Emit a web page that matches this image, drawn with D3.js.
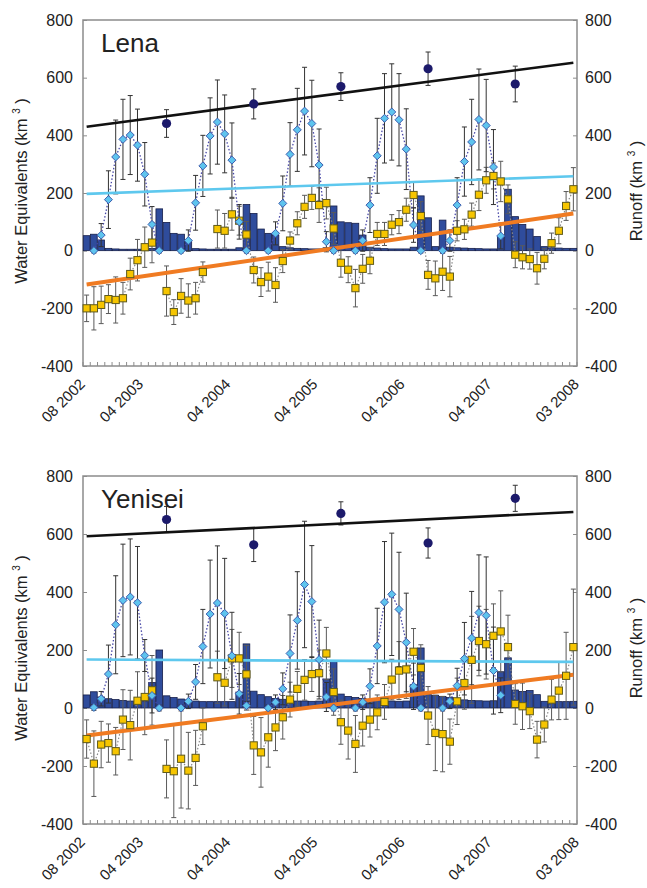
<!DOCTYPE html>
<html>
<head>
<meta charset="utf-8">
<script src="https://cdn.jsdelivr.net/npm/d3@7"></script>
<style>
  body { margin: 0; background: #fff; }
  svg { display: block; }
</style>
</head>
<body>
<svg id="chart" width="647" height="888"></svg>
<script>
const FONT = '"Liberation Sans", Arial, Helvetica, sans-serif';

// monthly categories, Aug 2002 .. Mar 2008
const months = d3.timeMonth.range(new Date(2002, 7, 1), new Date(2008, 3, 1));
const monthKeys = months.map(d3.timeFormat("%Y-%m"));
const yTicks = [-400, -200, 0, 200, 400, 600, 800];
const xTickLabels = ["08 2002", "04 2003", "04 2004", "04 2005", "04 2006", "04 2007", "03 2008"];
const xTickEdges = [0, 8, 20, 32, 44, 56, 68];
const annualMonths = ["2003-07", "2004-07", "2005-07", "2006-07", "2007-07"];

// ---- Lena ----
const lenaRunoff = [52, 57, 37, 8, 6, 5, 5, 5, 5, 8,
  145, 98, 60, 57, 36, 7, 6, 5, 5, 5,
  5, 10, 160, 129, 75, 60, 54, 14, 10, 8,
  7, 6, 6, 10, 155, 100, 97, 95, 54, 12,
  9, 7, 6, 6, 6, 12, 190, 114, 14, 106,
  12, 10, 9, 8, 7, 6, 6, 48, 213, 118,
  91, 75, 49, 14, 10, 9, 8, 8];
const lenaSwe = [null, 0, 54, 177, 325, 386, 401, 366, 265, 91,
  0, null, null, 0, 35, 166, 294, 398, 446, 405,
  314, 100, 0, null, null, 0, 60, 164, 334, 419,
  484, 441, 297, 31, 0, null, null, 0, 35, 158,
  329, 459, 481, 454, 352, 89, 0, null, null, 0,
  35, 158, 309, 377, 455, 434, 290, 51, null, null,
  null, null, null, null, null, null, null, null];
const lenaSweErr = [null, 8, 40, 100, 128, 139, 137, 125, 110, 62,
  8, null, null, 8, 37, 95, 106, 132, 146, 135,
  129, 60, 8, null, null, 8, 40, 95, 110, 144,
  152, 150, 125, 35, 8, null, null, 8, 37, 95,
  130, 155, 167, 160, 140, 60, 8, null, null, 8,
  37, 95, 120, 148, 175, 160, 130, 45, null, null,
  null, null, null, null, null, null, null, null];
const lenaTws = [-200, -200, -188, -168, -171, -165, -81, -33, 12, 28,
  null, -140, -213, -157, -173, -165, -74, null, 75, 69,
  126, 104, 56, -67, -109, -90, -119, -36, 35, 95,
  152, 183, 158, 165, 77, -42, -66, -130, -63, -35,
  58, 58, 90, 99, 142, 193, 120, -84, -96, -73,
  -90, 69, 74, 125, 194, 244, 259, 240, 178, -14,
  -23, -29, -61, -28, 26, 69, 155, 213];
const lenaTwsErr = [46, 75, 65, 50, 80, 55, 55, 72, 70, 70,
  null, 87, 43, 60, 58, 55, 35, null, 66, 60,
  55, 50, 45, 45, 50, 50, 60, 40, 30, 40,
  40, 40, 60, 55, 55, 50, 45, 65, 50, 45,
  40, 40, 35, 40, 40, 45, 50, 50, 60, 65,
  70, 35, 35, 40, 55, 45, 45, 70, 50, 45,
  40, 35, 55, 35, 35, 45, 50, 75];
const lenaAnnual = [441, 509, 569, 631, 578];
const lenaAnnualErr = [48, 52, 48, 58, 62];
const lenaTrendRunoff = [430, 652];
const lenaTrendSwe = [197, 258];
const lenaTrendTws = [-117, 129];

// ---- Yenisei ----
const yeniseiRunoff = [45, 56, 38, 32, 29, 26, 24, 22, 22, 88,
  200, 42, 36, 31, 28, 24, 22, 22, 22, 22,
  22, 55, 221, 58, 46, 39, 33, 30, 26, 24,
  24, 23, 24, 100, 162, 48, 40, 36, 33, 30,
  26, 24, 24, 23, 24, 80, 207, 46, 44, 40,
  36, 32, 28, 26, 25, 24, 25, 125, 173, 62,
  57, 60, 46, 23, 22, 22, 22, 23];
const yeniseiSwe = [null, 2, 32, 117, 287, 371, 383, 363, 181, 43,
  0, null, null, 0, 23, 90, 212, 324, 362, 326,
  180, 49, 8, null, null, 0, 20, 66, 188, 302,
  426, 367, 167, 38, 0, null, null, 0, 20, 75,
  214, 365, 392, 340, 226, 75, 0, null, null, 0,
  23, 77, 170, 241, 329, 319, 129, 44, null, null,
  null, null, null, null, null, null, null, null];
const yeniseiSweErr = [null, 10, 25, 100, 169, 194, 200, 194, 55, 60,
  10, null, null, 10, 25, 60, 128, 186, 197, 190,
  150, 70, 15, null, null, 10, 25, 55, 133, 168,
  218, 193, 136, 50, 10, null, null, 10, 25, 60,
  130, 209, 211, 197, 170, 80, 10, null, null, 10,
  25, 60, 125, 161, 199, 202, 150, 60, null, null,
  null, null, null, null, null, null, null, null];
const yeniseiTws = [-107, -192, -126, -121, -149, -40, -59, 25, 38, 61,
  null, -210, -218, -175, -216, -172, -63, null, 106, 87,
  171, 171, 116, -129, -153, -101, -67, -32, 29, 66,
  97, 117, 120, 188, 55, -49, -78, -124, -61, -40,
  -15, 21, 98, 129, 133, 194, 138, -26, -86, -90,
  -116, 23, 86, 166, 231, 220, 249, 264, 210, 14,
  6, -11, -109, -57, 29, 60, 111, 210];
const yeniseiTwsErr = [66, 113, 80, 66, 82, 103, 120, 100, 130, 120,
  null, 100, 160, 170, 132, 95, 63, null, 90, 80,
  100, 90, 100, 100, 120, 103, 80, 75, 60, 60,
  70, 60, 80, 90, 80, 76, 98, 98, 70, 60,
  60, 60, 70, 100, 100, 80, 80, 100, 130, 130,
  78, 80, 90, 150, 120, 120, 110, 140, 110, 70,
  80, 60, 63, 60, 70, 100, 150, 200];
const yeniseiAnnual = [650, 563, 671, 569, 723];
const yeniseiAnnualErr = [45, 58, 40, 52, 45];
const yeniseiTrendRunoff = [592, 676];
const yeniseiTrendSwe = [167, 159];
const yeniseiTrendTws = [-95, 115];

const panels = [
  { name: "Lena", top: 20, bottom: 366, runoff: lenaRunoff, swe: lenaSwe, sweErr: lenaSweErr,
    tws: lenaTws, twsErr: lenaTwsErr, annual: lenaAnnual, annualErr: lenaAnnualErr,
    trendRunoff: lenaTrendRunoff, trendSwe: lenaTrendSwe, trendTws: lenaTrendTws },
  { name: "Yenisei", top: 476, bottom: 824, runoff: yeniseiRunoff, swe: yeniseiSwe, sweErr: yeniseiSweErr,
    tws: yeniseiTws, twsErr: yeniseiTwsErr, annual: yeniseiAnnual, annualErr: yeniseiAnnualErr,
    trendRunoff: yeniseiTrendRunoff, trendSwe: yeniseiTrendSwe, trendTws: yeniseiTrendTws },
];

const svg = d3.select("#chart").attr("font-family", FONT);
const X0 = 83, X1 = 577;
const x = d3.scaleBand(monthKeys, [X0, X1]).padding(0);
const xEdge = d3.scaleLinear([0, monthKeys.length], [X0, X1]);
const cx = (key) => x(key) + x.bandwidth() / 2;

function errorBars(g, cls, pts, y, color) {
  const eb = g.selectAll(`g.${cls}`).data(pts).join("g").attr("class", cls)
    .attr("stroke", color).attr("stroke-width", 1);
  eb.append("line").attr("x1", (d) => cx(d.key)).attr("x2", (d) => cx(d.key))
    .attr("y1", (d) => y(d.v + d.e)).attr("y2", (d) => y(d.v - d.e));
  [1, -1].forEach((s) =>
    eb.append("line").attr("x1", (d) => cx(d.key) - 2.5).attr("x2", (d) => cx(d.key) + 2.5)
      .attr("y1", (d) => y(d.v + s * d.e)).attr("y2", (d) => y(d.v + s * d.e)));
}

function axisTitle(g, tx, ty, label) {
  const t = g.append("text").attr("transform", `translate(${tx},${ty}) rotate(-90)`)
    .attr("text-anchor", "middle").attr("font-size", 16.5).attr("fill", "#222");
  t.append("tspan").text(label + " (km ");
  t.append("tspan").attr("dy", -7).attr("font-size", 10).text("3");
  t.append("tspan").attr("dy", 7).text(" )");
}

function drawPanel(p) {
  const g = svg.append("g").attr("class", "panel");
  const y = d3.scaleLinear([-400, 800], [p.bottom, p.top]);
  const series = (vals, errs) => vals.map((v, i) => ({ key: monthKeys[i], v, e: errs ? errs[i] : 0 }));

  g.append("rect").attr("x", X0).attr("y", p.top).attr("width", X1 - X0).attr("height", p.bottom - p.top)
    .attr("fill", "none").attr("stroke", "#8c8c8c").attr("stroke-width", 1.5);

  const fmt = (d) => String(d);
  const left = g.append("g").attr("transform", `translate(${X0},0)`)
    .call(d3.axisLeft(y).tickValues(yTicks).tickFormat(fmt).tickSizeInner(-4).tickSizeOuter(0).tickPadding(10));
  const right = g.append("g").attr("transform", `translate(${X1},0)`)
    .call(d3.axisRight(y).tickValues(yTicks).tickFormat(fmt).tickSizeInner(-4).tickSizeOuter(0).tickPadding(8));
  [left, right].forEach((a) => {
    a.attr("font-size", 16).attr("font-family", FONT);
    a.select(".domain").remove();
    a.selectAll(".tick line").attr("stroke", "#8c8c8c");
    a.selectAll(".tick text").attr("fill", "#222");
  });

  // month tick marks along the bottom
  g.selectAll("line.mtick").data(d3.range(monthKeys.length + 1)).join("line").attr("class", "mtick")
    .attr("x1", (k) => xEdge(k)).attr("x2", (k) => xEdge(k))
    .attr("y1", p.bottom).attr("y2", p.bottom - 4).attr("stroke", "#8c8c8c");

  g.selectAll("text.xlab").data(xTickLabels).join("text").attr("class", "xlab")
    .attr("transform", (d, i) => `translate(${xEdge(xTickEdges[i]) + 3},${p.bottom + 19}) rotate(-45)`)
    .attr("text-anchor", "end").attr("font-size", 15).attr("fill", "#222").text((d) => d);

  // monthly runoff bars
  g.selectAll("rect.bar").data(series(p.runoff)).join("rect").attr("class", "bar")
    .attr("x", (d) => x(d.key) + 0.3).attr("width", x.bandwidth() - 0.6)
    .attr("y", (d) => y(d.v)).attr("height", (d) => y(0) - y(d.v))
    .attr("fill", "#2f4c9c").attr("stroke", "#161f4a").attr("stroke-width", 0.8);

  const tws = series(p.tws, p.twsErr);
  const swe = series(p.swe, p.sweErr);
  const annual = annualMonths.map((m, i) => ({ key: m, v: p.annual[i], e: p.annualErr[i] }));

  errorBars(g, "eb-tws", tws.filter((d) => d.v != null), y, "#5a5a5a");
  errorBars(g, "eb-swe", swe.filter((d) => d.v != null), y, "#333");
  errorBars(g, "eb-ann", annual, y, "#333");

  const line = d3.line().defined((d) => d.v != null).x((d) => cx(d.key)).y((d) => y(d.v));
  g.append("path").attr("d", line(tws)).attr("fill", "none").attr("stroke", "#8a8a8a")
    .attr("stroke-width", 1.2).attr("stroke-dasharray", "1.5,2");
  g.append("path").attr("d", line(swe)).attr("fill", "none").attr("stroke", "#4848a8")
    .attr("stroke-width", 1.3).attr("stroke-dasharray", "1.5,2");

  const ends = (vals) => [{ key: monthKeys[0], v: vals[0] }, { key: monthKeys[monthKeys.length - 1], v: vals[1] }];
  g.append("path").attr("d", line(ends(p.trendRunoff))).attr("stroke", "#111").attr("stroke-width", 2.6).attr("fill", "none");
  g.append("path").attr("d", line(ends(p.trendSwe))).attr("stroke", "#5ec8ee").attr("stroke-width", 2.6).attr("fill", "none");
  g.append("path").attr("d", line(ends(p.trendTws))).attr("stroke", "#f07b22").attr("stroke-width", 4).attr("fill", "none");

  g.selectAll("rect.tws").data(tws.filter((d) => d.v != null)).join("rect").attr("class", "tws")
    .attr("x", (d) => cx(d.key) - 3.6).attr("y", (d) => y(d.v) - 3.6).attr("width", 7.2).attr("height", 7.2)
    .attr("fill", "#f6c500").attr("stroke", "#5f5a1c").attr("stroke-width", 1);
  g.selectAll("path.swe").data(swe.filter((d) => d.v != null)).join("path").attr("class", "swe")
    .attr("d", "M0,-4L4,0L0,4L-4,0Z").attr("transform", (d) => `translate(${cx(d.key)},${y(d.v)})`)
    .attr("fill", "#5ec4ee").attr("stroke", "#3d5fb0").attr("stroke-width", 1);
  g.selectAll("circle.ann").data(annual).join("circle").attr("class", "ann")
    .attr("cx", (d) => cx(d.key)).attr("cy", (d) => y(d.v)).attr("r", 4.6).attr("fill", "#1c1a6b");

  g.append("text").attr("x", 101).attr("y", p.top + 32).attr("font-size", 26).attr("fill", "#222").text(p.name);

  axisTitle(g, 27, (p.top + p.bottom) / 2 - 2, "Water Equivalents");
  axisTitle(g, 642, (p.top + p.bottom) / 2 - 2, "Runoff");
}

panels.forEach(drawPanel);
</script>
</body>
</html>
